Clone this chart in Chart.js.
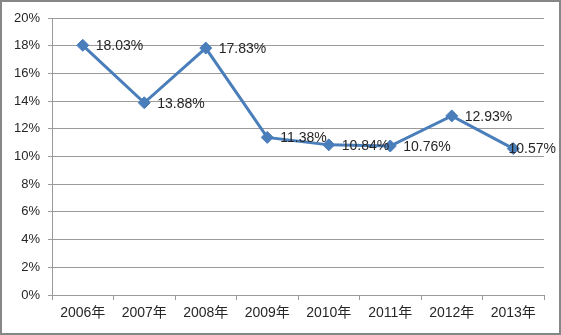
<!DOCTYPE html>
<html>
<head>
<meta charset="utf-8">
<script src="https://cdn.jsdelivr.net/npm/chart.js@4/dist/chart.umd.min.js"></script>
<style>
    html, body { margin: 0; padding: 0; background: #fff; }
    #frame {
        width: 561px;
        height: 335px;
        box-sizing: border-box;
        border: 2px solid #878787;
        position: relative;
    }
    #rateChart { display: block; }
</style>
</head>
<body>
<div id="frame"><canvas id="rateChart" width="557" height="331"></canvas></div>
<script>
const years = ['2006年', '2007年', '2008年', '2009年', '2010年', '2011年', '2012年', '2013年'];
const rates = [18.03, 13.88, 17.83, 11.38, 10.84, 10.76, 12.93, 10.57];
const yTicks = [0, 2, 4, 6, 8, 10, 12, 14, 16, 18, 20];

const lineBlue = '#4a7ebb';
const gridGray = '#9a9a9a';
const textColor = '#262626';
const fontFamily = '"Liberation Sans", Arial, "Noto Sans CJK SC", sans-serif';

// write the value to the right of each marker, pulled back if it would run off the edge
const valueLabels = {
    id: 'valueLabels',
    afterDatasetsDraw(chart) {
        const ctx = chart.ctx;
        const meta = chart.getDatasetMeta(0);
        ctx.save();
        ctx.font = '14px ' + fontFamily;
        ctx.fillStyle = textColor;
        ctx.textAlign = 'left';
        ctx.textBaseline = 'middle';
        meta.data.forEach((pt, i) => {
            const text = rates[i].toFixed(2) + '%';
            const w = ctx.measureText(text).width;
            const x = Math.min(pt.x + 13, chart.width - w - 3);
            ctx.fillText(text, x, pt.y + 1);
        });
        ctx.restore();
    }
};

new Chart(document.getElementById('rateChart'), {
    type: 'line',
    data: {
        labels: years,
        datasets: [{
            data: rates,
            borderColor: lineBlue,
            backgroundColor: lineBlue,
            borderWidth: 3,
            tension: 0,
            pointStyle: 'rectRot',
            pointRadius: 6,
            pointBackgroundColor: lineBlue,
            pointBorderColor: lineBlue,
            pointBorderWidth: 1
        }]
    },
    options: {
        responsive: false,
        animation: false,
        layout: { padding: { top: 16, right: 15, left: 0, bottom: 0 } },
        plugins: {
            legend: { display: false },
            tooltip: { enabled: false }
        },
        scales: {
            x: {
                offset: true,
                grid: {
                    offset: true,
                    drawOnChartArea: false,
                    drawTicks: true,
                    tickLength: 5,
                    color: gridGray
                },
                border: { color: gridGray },
                ticks: {
                    color: textColor,
                    font: { family: fontFamily, size: 14 },
                    padding: 5,
                    maxRotation: 0,
                    autoSkip: false
                },
                afterFit(scale) { scale.height = 38; }
            },
            y: {
                min: 0,
                max: 20,
                afterBuildTicks(scale) {
                    scale.ticks = yTicks.map(v => ({ value: v }));
                },
                grid: {
                    color: gridGray,
                    tickLength: 4
                },
                border: { color: gridGray },
                ticks: {
                    color: textColor,
                    font: { family: fontFamily, size: 13 },
                    padding: 8,
                    callback: v => v + '%'
                },
                afterFit(scale) { scale.width = 50; }
            }
        }
    },
    plugins: [valueLabels]
});
</script>
</body>
</html>
